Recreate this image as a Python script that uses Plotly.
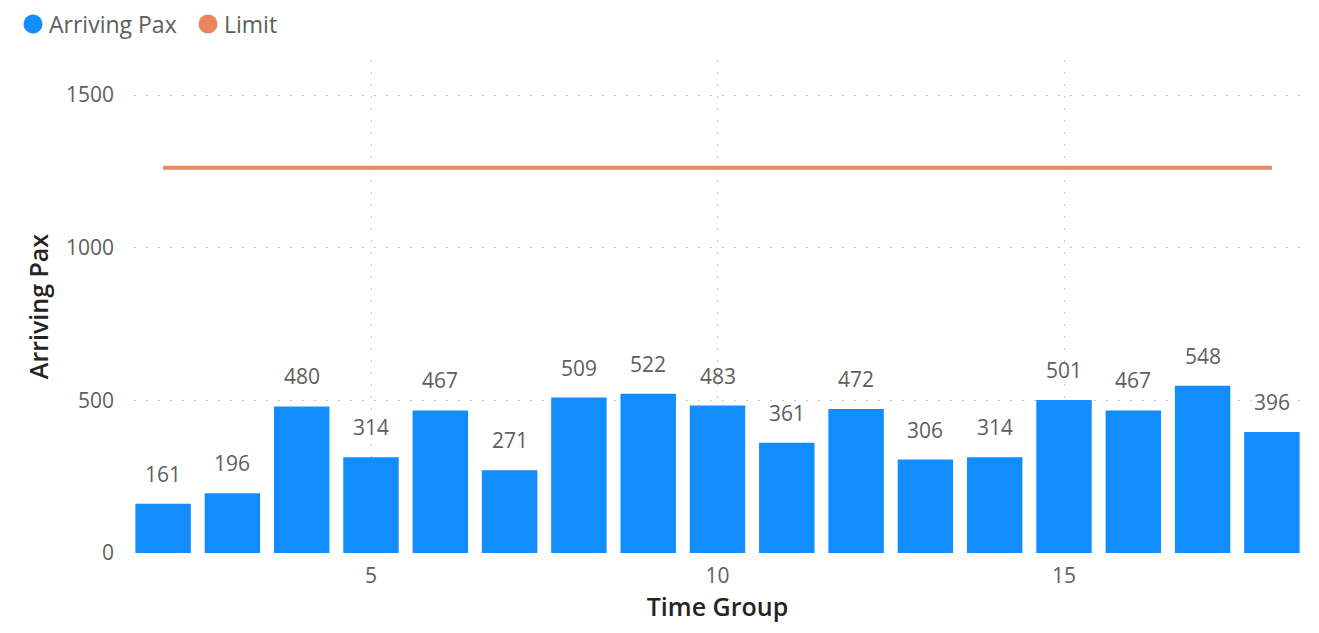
import plotly.graph_objects as go

time_groups = list(range(2, 19))
arriving_pax = [161, 196, 480, 314, 467, 271, 509, 522, 483, 361, 472, 306, 314, 501, 467, 548, 396]
limit_value = 1262
limit = [limit_value] * len(time_groups)
legend_names = ["Arriving Pax", "Limit"]

bar_color = "#118DFF"
limit_color = "#E8875F"
legend_colors = [bar_color, limit_color]
font_family = "Open Sans, Noto Sans, sans-serif"
grey = "#605E5C"
dark = "#252423"

# page body has an 8px margin; compensate so the plot sits where intended
off = 8
plot_left, plot_top, plot_w, plot_h = 134, 60, 1167, 493

fig = go.Figure()
fig.add_trace(go.Bar(
    x=time_groups, y=arriving_pax, name="Arriving Pax",
    marker=dict(color=bar_color, line=dict(width=0)),
    width=0.8,
))
fig.add_trace(go.Scatter(
    x=time_groups, y=limit, name="Limit", mode="lines",
    line=dict(color=limit_color, width=4),
))

for x, v in zip(time_groups, arriving_pax):
    fig.add_annotation(x=x, y=v, text=str(v), showarrow=False,
                       xanchor="center", yanchor="bottom", yshift=14,
                       font=dict(size=21, color=grey, family=font_family))

# legend drawn at the top-left (circle markers + labels)
leg_y = (plot_top + plot_h - 24) / plot_h
for name, col, cx, tx in zip(legend_names, legend_colors, [33, 208], [47, 222]):
    fig.add_shape(type="circle", xref="paper", yref="paper",
                  xsizemode="pixel", ysizemode="pixel",
                  xanchor=(cx - plot_left) / plot_w, yanchor=leg_y,
                  x0=-9.5, x1=9.5, y0=-9.5, y1=9.5,
                  fillcolor=col, line=dict(width=0))
    fig.add_annotation(xref="paper", yref="paper", x=(tx - plot_left) / plot_w, y=leg_y,
                       text=name, showarrow=False, xanchor="left", yanchor="middle",
                       font=dict(size=23, color=grey, family=font_family))

fig.update_layout(
    width=1319, height=633,
    margin=dict(l=plot_left - off, r=1319 - plot_left - plot_w + off,
                t=plot_top - off, b=633 - plot_top - plot_h + off),
    plot_bgcolor="white", paper_bgcolor="white",
    font=dict(family=font_family, color=grey),
    showlegend=False,
)
fig.update_xaxes(
    range=[1.58, 18.42], tickvals=[5, 10, 15], ticktext=["5", "10", "15"],
    showgrid=True, gridcolor="#C8C6C4", griddash="2px,10px", gridwidth=1,
    zeroline=False, showline=False, ticks="", automargin=False,
    tickfont=dict(size=21, color=grey), ticklabelstandoff=8,
    title=dict(text="Time Group", font=dict(size=25, color=dark, weight=600), standoff=10),
)
fig.update_yaxes(
    range=[0, 1615], tickvals=[0, 500, 1000, 1500],
    showgrid=True, gridcolor="#C8C6C4", griddash="2px,10px", gridwidth=1,
    zeroline=False, showline=False, ticks="", automargin=False,
    tickfont=dict(size=21, color=grey), ticklabelstandoff=19,
    title=dict(text="Arriving Pax", font=dict(size=25, color=dark, weight=600), standoff=10),
)

fig.write_html("out.html")
